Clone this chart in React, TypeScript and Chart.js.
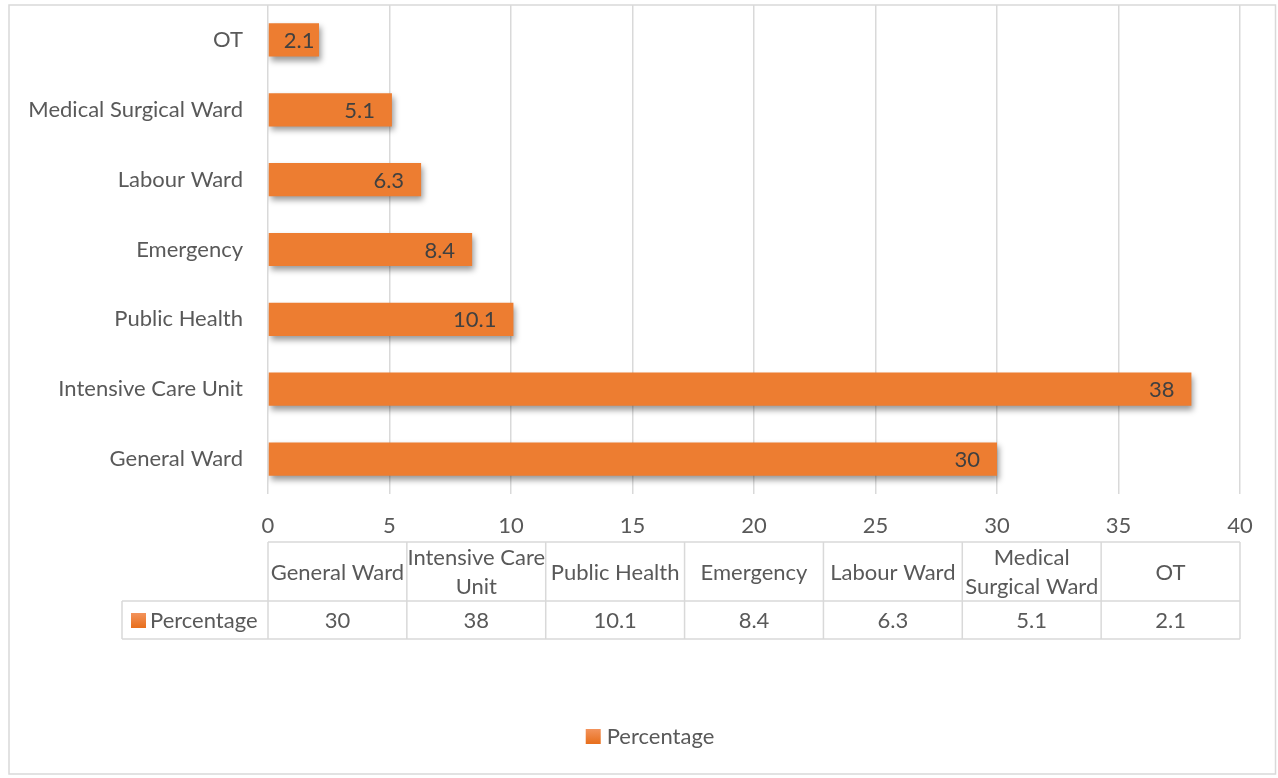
import React, { useEffect, useRef } from "react";
import { Chart, registerables } from "chart.js";

Chart.register(...registerables);

const categories = [
  "General Ward",
  "Intensive Care Unit",
  "Public Health",
  "Emergency",
  "Labour Ward",
  "Medical Surgical Ward",
  "OT",
];
const percentages = [30, 38, 10.1, 8.4, 6.3, 5.1, 2.1];
const tableHeaderLines = [
  ["General Ward"],
  ["Intensive Care", "Unit"],
  ["Public Health"],
  ["Emergency"],
  ["Labour Ward"],
  ["Medical", "Surgical Ward"],
  ["OT"],
];
const seriesName = "Percentage";
const axisMin = 0;
const axisMax = 40;
const axisStep = 5;

const FONT = "Lato, 'Open Sans', sans-serif";
const FS = 22;
const TEXT = "#595959";
const GRID = "#D9D9D9";
const ORANGE = "#ED7D31";

function fmt(v: number) {
  return String(v);
}

const decorPlugin = {
  id: "decor",
  beforeDraw(chart: any) {
    const ctx = chart.ctx;
    ctx.save();
    ctx.fillStyle = "#ffffff";
    ctx.fillRect(0, 0, chart.width, chart.height);
    ctx.restore();
  },
  beforeDatasetDraw(chart: any) {
    const ctx = chart.ctx;
    ctx.save();
    ctx.shadowColor = "rgba(0,0,0,0.4)";
    ctx.shadowBlur = 6;
    ctx.shadowOffsetX = 2;
    ctx.shadowOffsetY = 4;
  },
  afterDatasetDraw(chart: any) {
    chart.ctx.restore();
  },
  afterDatasetsDraw(chart: any) {
    const ctx = chart.ctx;
    const meta = chart.getDatasetMeta(0);
    ctx.save();
    ctx.font = `${FS}px ${FONT}`;
    ctx.fillStyle = "#404040";
    ctx.textAlign = "right";
    ctx.textBaseline = "middle";
    meta.data.forEach((bar: any, i: number) => {
      const v = chart.data.datasets[0].data[i];
      const s = fmt(v);
      const w = ctx.measureText(s).width;
      let rx = bar.x - 17;
      if (rx - w < bar.base + 15) rx = bar.base + 15 + w;
      ctx.fillText(s, rx, bar.y + 1);
    });
    ctx.restore();
  },
  afterDraw(chart: any) {
    const ctx = chart.ctx;
    const area = chart.chartArea;
    ctx.save();
    // outer border
    ctx.strokeStyle = GRID;
    ctx.lineWidth = 1.5;
    ctx.strokeRect(9, 5, chart.width - 11.5, chart.height - 9);

    // data table
    const left = area.left;
    const right = area.right;
    const colW = (right - left) / categories.length;
    const headTop = area.bottom + 48;
    const headBot = headTop + 59;
    const rowBot = headBot + 38;
    const tableLeft = 122;
    ctx.strokeStyle = GRID;
    ctx.lineWidth = 1.5;
    ctx.beginPath();
    ctx.moveTo(left, headTop);
    ctx.lineTo(right, headTop);
    ctx.moveTo(tableLeft, headBot);
    ctx.lineTo(right, headBot);
    ctx.moveTo(tableLeft, rowBot);
    ctx.lineTo(right, rowBot);
    ctx.moveTo(tableLeft, headBot);
    ctx.lineTo(tableLeft, rowBot);
    for (let i = 0; i <= categories.length; i++) {
      const x = left + colW * i;
      ctx.moveTo(x, headTop);
      ctx.lineTo(x, rowBot);
    }
    ctx.stroke();

    ctx.font = `${FS}px ${FONT}`;
    ctx.fillStyle = TEXT;
    ctx.textAlign = "center";
    ctx.textBaseline = "middle";
    const headMid = (headTop + headBot) / 2;
    const rowMid = (headBot + rowBot) / 2;
    tableHeaderLines.forEach((lines, i) => {
      const cx = left + colW * (i + 0.5);
      if (lines.length === 1) {
        ctx.fillText(lines[0], cx, headMid + 1);
      } else {
        ctx.fillText(lines[0], cx, headMid - 14);
        ctx.fillText(lines[1], cx, headMid + 15);
      }
      ctx.fillText(fmt(percentages[i]), cx, rowMid + 1);
    });
    // series key in table
    const grad1 = ctx.createLinearGradient(0, rowMid - 7, 0, rowMid + 7);
    grad1.addColorStop(0, "#F3935C");
    grad1.addColorStop(1, "#E8701F");
    ctx.fillStyle = grad1;
    ctx.fillRect(131, rowMid - 7, 15, 15);
    ctx.fillStyle = TEXT;
    ctx.textAlign = "left";
    ctx.fillText(seriesName, 150, rowMid + 1);

    // legend
    const ly = 736;
    const tw = ctx.measureText(seriesName).width;
    const totalW = 15 + 6 + tw;
    const lx = 650 - totalW / 2;
    const grad2 = ctx.createLinearGradient(0, ly - 7, 0, ly + 7);
    grad2.addColorStop(0, "#F3935C");
    grad2.addColorStop(1, "#E8701F");
    ctx.fillStyle = grad2;
    ctx.fillRect(lx, ly - 7, 15, 15);
    ctx.fillStyle = TEXT;
    ctx.textAlign = "left";
    ctx.fillText(seriesName, lx + 21, ly + 1);
    ctx.restore();
  },
};

export default function App() {
  const ref = useRef<HTMLCanvasElement | null>(null);
  useEffect(() => {
    if (!ref.current) return;
    Chart.defaults.font.family = FONT;
    Chart.defaults.font.size = FS;
    Chart.defaults.color = TEXT;
    const chart = new Chart(ref.current, {
      type: "bar",
      data: {
        labels: categories,
        datasets: [
          {
            label: seriesName,
            data: percentages,
            backgroundColor: (c: any) => {
              const el = c.element;
              const chartCtx = c.chart.ctx;
              if (!el || el.y === undefined || el.height === undefined) return ORANGE;
              const top = el.y - el.height / 2;
              const bot = el.y + el.height / 2;
              const g = chartCtx.createLinearGradient(0, top, 0, bot);
              g.addColorStop(0, "#F3915A");
              g.addColorStop(0.5, "#F07F30");
              g.addColorStop(1, "#E66D1C");
              return g;
            },
            borderWidth: 0,
            barPercentage: 0.475,
            categoryPercentage: 1,
          },
        ],
      },
      options: {
        indexAxis: "y",
        responsive: false,
        animation: false,
        devicePixelRatio: 1,
        layout: { padding: { left: 0, right: 38, top: 5, bottom: 234 } },
        plugins: {
          legend: { display: false },
          tooltip: { enabled: false },
        },
        scales: {
          x: {
            min: axisMin,
            max: axisMax,
            ticks: { stepSize: axisStep, padding: 19, color: TEXT, font: { size: FS, family: FONT } },
            grid: { color: GRID, lineWidth: 1.5, drawTicks: false },
            border: { display: false },
            afterFit: (s: any) => {
              s.height = 50;
            },
          },
          y: {
            reverse: true,
            ticks: { padding: 25, color: TEXT, font: { size: FS, family: FONT } },
            grid: { display: false, drawTicks: false },
            border: { display: false },
            afterFit: (s: any) => {
              s.width = 268;
              s.paddingTop = 0;
              s.paddingBottom = 0;
            },
          },
        },
      },
      plugins: [decorPlugin],
    } as any);
    return () => chart.destroy();
  }, []);
  return (
    <div style={{ position: "fixed", left: 0, top: 0, width: 1278, height: 778 }}>
      <canvas ref={ref} width={1278} height={778} style={{ display: "block" }} />
    </div>
  );
}
